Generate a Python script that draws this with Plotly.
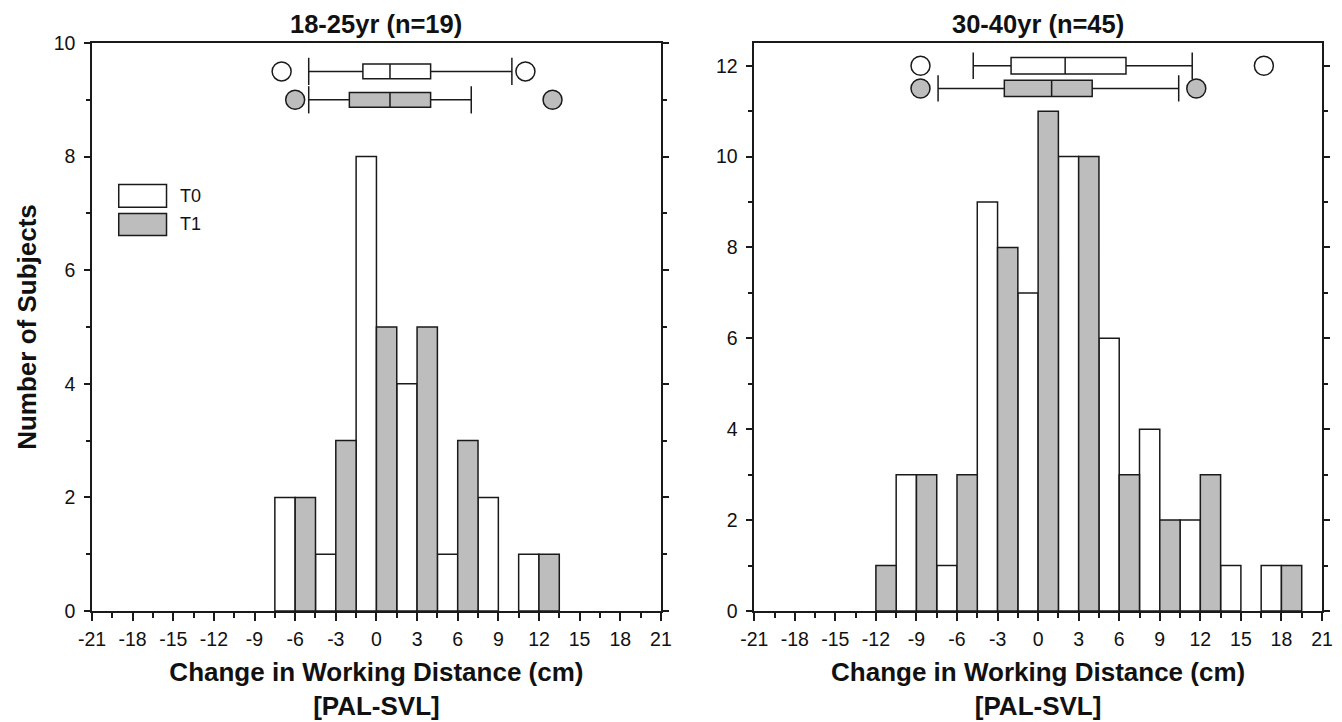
import plotly.graph_objects as go

# ---------------- data ----------------
left_bins = [-6, -3, 0, 3, 6, 9, 12]
left_t0 = [2, 1, 8, 4, 1, 2, 1]
left_t1 = [2, 3, 5, 5, 3, 0, 1]

right_bins = [-12, -9, -6, -3, 0, 3, 6, 9, 12, 15, 18]
right_t0 = [0, 3, 1, 9, 7, 10, 6, 4, 2, 1, 1]
right_t1 = [1, 3, 3, 8, 11, 10, 3, 2, 3, 0, 1]

# box-plot summaries: [lower whisker, Q1, median, Q3, upper whisker]
left_box_t0 = [-5, -1, 1, 4, 10]
left_box_t1 = [-5, -2, 1, 4, 7]
left_out_t0 = [-7, 11]
left_out_t1 = [-6, 13]
left_rows = [9.5, 9.0]

right_box_t0 = [-4.8, -2, 2, 6.5, 11.4]
right_box_t1 = [-7.4, -2.5, 1, 4, 10.4]
right_out_t0 = [-8.7, 16.7]
right_out_t1 = [-8.7, 11.7]
right_rows = [12.0, 11.5]

titles = ["18-25yr (n=19)", "30-40yr (n=45)"]
series_names = ["T0", "T1"]
x_ticks = list(range(-21, 22, 3))
x_ticktext = [str(v) for v in x_ticks]

# ---------------- style ----------------
FONT = "Liberation Sans, Arial, sans-serif"
WHITE = "#ffffff"
GREY = "#bdbdbd"
EDGE = "#1a1a1a"
TXT = "#111111"

fig = go.Figure()

panels = [
    dict(xa="x", ya="y", bins=left_bins, t0=left_t0, t1=left_t1,
         boxes=[left_box_t0, left_box_t1], outs=[left_out_t0, left_out_t1],
         rows=left_rows, boxw=0.26, caph=0.24),
    dict(xa="x2", ya="y2", bins=right_bins, t0=right_t0, t1=right_t1,
         boxes=[right_box_t0, right_box_t1], outs=[right_out_t0, right_out_t1],
         rows=right_rows, boxw=0.36, caph=0.29),
]

for p in panels:
    for name, vals, fill, off in [("T0", p["t0"], WHITE, -1.5), ("T1", p["t1"], GREY, 0.0)]:
        fig.add_trace(go.Bar(
            x=p["bins"], y=[v if v else None for v in vals], width=1.5, offset=off,
            marker=dict(color=fill, line=dict(color=EDGE, width=1.5)),
            name=name, showlegend=False, xaxis=p["xa"], yaxis=p["ya"],
        ))
    for stats, outs, row, fill in zip(p["boxes"], p["outs"], p["rows"], [WHITE, GREY]):
        lo, q1, med, q3, hi = stats
        fig.add_trace(go.Box(
            orientation="h", y=[row], lowerfence=[lo], q1=[q1], median=[med],
            q3=[q3], upperfence=[hi], width=p["boxw"], whiskerwidth=0,
            fillcolor=fill, line=dict(color=EDGE, width=1.5),
            boxpoints=False, showlegend=False, hoverinfo="skip",
            xaxis=p["xa"], yaxis=p["ya"],
        ))
        # whisker caps
        cx, cy = [], []
        for v in (lo, hi):
            cx += [v, v, None]
            cy += [row - p["caph"], row + p["caph"], None]
        fig.add_trace(go.Scatter(
            x=cx, y=cy, mode="lines", line=dict(color=EDGE, width=1.5),
            showlegend=False, hoverinfo="skip", xaxis=p["xa"], yaxis=p["ya"],
        ))
        # outliers
        fig.add_trace(go.Scatter(
            x=outs, y=[row] * len(outs), mode="markers",
            marker=dict(size=19, color=fill, line=dict(color=EDGE, width=1.5)),
            showlegend=False, hoverinfo="skip", xaxis=p["xa"], yaxis=p["ya"],
        ))

xaxis_common = dict(
    range=[-21, 21], tickmode="array", tickvals=x_ticks, ticktext=x_ticktext,
    ticks="outside", ticklen=8, tickwidth=1.5, tickcolor=EDGE,
    minor=dict(dtick=1.5, tick0=0, ticks="outside", ticklen=5, tickwidth=1.5, tickcolor=EDGE),
    showline=True, linecolor=EDGE, linewidth=1.5, mirror=True,
    showgrid=False, zeroline=False, automargin=False,
    tickfont=dict(family=FONT, size=19.5, color=TXT),
    ticklabelstandoff=2,
    title=dict(text="<b>Change in Working Distance (cm)<br>[PAL-SVL]</b>",
               font=dict(family=FONT, size=26, color=TXT), standoff=14),
)
yaxis_common = dict(
    ticks="outside", ticklen=6, tickwidth=1.5, tickcolor=EDGE, dtick=2, tick0=0,
    minor=dict(dtick=1, ticks="outside", ticklen=4, tickwidth=1.5, tickcolor=EDGE),
    showline=True, linecolor=EDGE, linewidth=1.5, mirror="ticks",
    showgrid=False, zeroline=False, automargin=False,
    tickfont=dict(family=FONT, size=19.5, color=TXT),
    ticklabelstandoff=5,
)

# the page body keeps its default 8px margin, so the figure is sized to fit
fig.update_layout(
    width=1334, height=714,
    margin=dict(l=84, r=20, t=35, b=111),
    plot_bgcolor="white", paper_bgcolor="white",
    barmode="overlay", showlegend=False,
    xaxis=dict(domain=[0, 0.4625], anchor="y", **xaxis_common),
    yaxis=dict(domain=[0, 1], anchor="x", range=[0, 10], **yaxis_common,
               title=dict(text="<b>Number of Subjects</b>",
                          font=dict(family=FONT, size=26, color=TXT), standoff=10)),
    xaxis2=dict(domain=[0.5384, 1], anchor="y2", **xaxis_common),
    yaxis2=dict(domain=[0, 1], anchor="x2", range=[0, 12.5], **yaxis_common),
)

# panel titles
for xr, t in zip(["x domain", "x2 domain"], titles):
    fig.add_annotation(text=f"<b>{t}</b>", xref=xr, yref="paper", x=0.5, y=1,
                       yanchor="bottom", yshift=3, showarrow=False,
                       font=dict(family=FONT, size=25.5, color=TXT))

# legend (left panel)
legend_rows = [(0.751, 0.711), (0.700, 0.661)]
for name, fill, (ytop, ybot) in zip(series_names, [WHITE, GREY], legend_rows):
    fig.add_shape(type="rect", xref="x domain", yref="y domain",
                  x0=0.047, x1=0.131, y0=ybot, y1=ytop,
                  fillcolor=fill, line=dict(color=EDGE, width=1.5))
    fig.add_annotation(text=name, xref="x domain", yref="y domain",
                       x=0.152, y=(ytop + ybot) / 2, xanchor="left", yanchor="middle",
                       showarrow=False, font=dict(family=FONT, size=18, color=TXT))

fig.write_html("out.html")
